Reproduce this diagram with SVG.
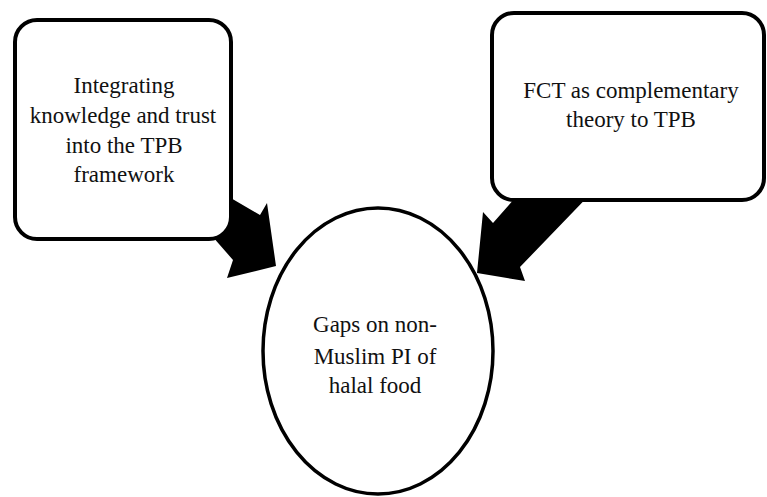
<svg xmlns="http://www.w3.org/2000/svg" width="767" height="497" viewBox="0 0 767 497">
  <style>
    .box { fill: #ffffff; stroke: #000000; stroke-width: 4; }
    .oval { fill: #ffffff; stroke: #000000; stroke-width: 3.5; }
    .arrow { fill: #000000; stroke: none; }
    .label { font-family: "Liberation Serif", "Times New Roman", serif; font-size: 23px; fill: #111111; text-anchor: middle; }
  </style>
  <rect width="767" height="497" fill="#ffffff"/>
  <g id="connectors">
    <polygon class="arrow" points="200,180 260,215 267,203 276,266 227,278 233,260 205,228"/>
    <polygon class="arrow" points="600,184 520,267 525,281 477,273 483,212 493,223 522,190"/>
  </g>
  <g id="node-knowledge-trust">
    <rect class="box" x="15" y="20" width="216" height="219" rx="22" ry="22"/>
    <text class="label" x="124" y="93">Integrating</text>
    <text class="label" x="123" y="123">knowledge  and trust</text>
    <text class="label" x="124" y="153">into  the TPB</text>
    <text class="label" x="124" y="182">framework</text>
  </g>
  <g id="node-fct">
    <rect class="box" x="492" y="13" width="272" height="187" rx="22" ry="22"/>
    <text class="label" x="631" y="98">FCT as complementary</text>
    <text class="label" x="631" y="127">theory  to TPB</text>
  </g>
  <g id="node-gaps">
    <ellipse class="oval" cx="378" cy="351" rx="115" ry="143"/>
    <text class="label" x="375" y="332">Gaps  on non-</text>
    <text class="label" x="375" y="364">Muslim  PI of</text>
    <text class="label" x="375" y="393">halal  food</text>
  </g>
</svg>
